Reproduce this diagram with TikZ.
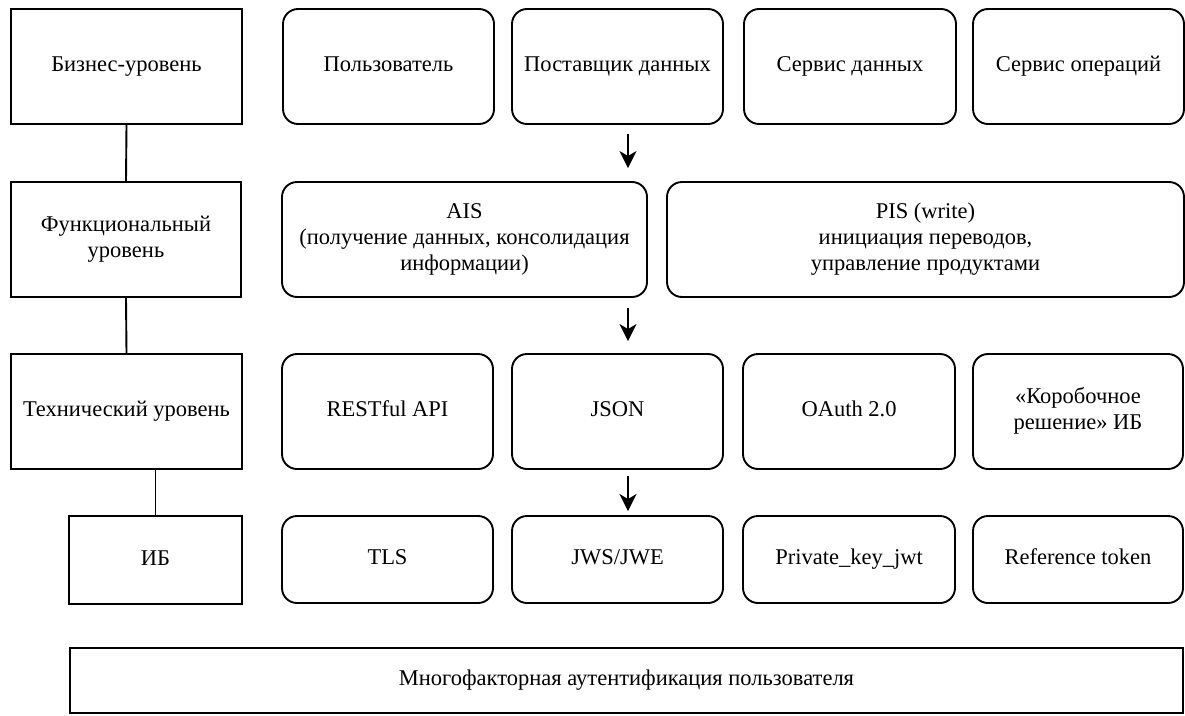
\documentclass[tikz,border=0pt]{standalone}
\usepackage{fontspec}
\setmainfont{Liberation Serif}
\usetikzlibrary{arrows.meta}

\tikzset{
  lvl/.style={draw, line width=1.9pt, rectangle, inner sep=0pt, align=center,
    font=\fontsize{22.5}{26}\selectfont},
  item/.style={lvl, rounded corners=15pt},
  link/.style={line width=1.9pt},
  arr/.style={line width=1.9pt, -{Stealth[length=17pt,width=17pt,inset=5pt]}},
}

% box with corners (x1,y1)-(x2,y2), y measured downwards
\newcommand{\boxat}[7]{%
  \node[#1, minimum width={(#5)-(#3)}, minimum height={(#6)-(#4)}]
    (#2) at ({((#3)+(#5))/2},{((#4)+(#6))/2}) {\strut#7\strut};}

\begin{document}
\begin{tikzpicture}[x=1pt, y=-1pt]
\useasboundingbox (0,0) rectangle (1185,715);

% levels
\boxat{lvl}{biz}{11}{9}{242}{124}{Бизнес-уровень}
\boxat{lvl}{func}{11}{182}{241}{297}{Функциональный\\уровень}
\boxat{lvl}{tech}{11}{354}{242}{469}{Технический уровень}
\boxat{lvl}{ib}{69}{516}{242}{604}{ИБ}

% business row
\boxat{item}{user}{283}{9}{494}{124}{Пользователь}
\boxat{item}{prov}{512}{9}{723}{124}{Поставщик данных}
\boxat{item}{sdata}{744}{9}{956}{124}{Сервис данных}
\boxat{item}{sop}{973}{9}{1184}{124}{Сервис операций}

% functional row
\boxat{item}{ais}{282}{182}{647}{297}{AIS\\(получение данных, консолидация\\информации)}
\boxat{item}{pis}{667}{182}{1184}{297}{PIS (write)\\инициация переводов,\\управление продуктами}

% technical row
\boxat{item}{rest}{282}{354}{493}{469}{RESTful API}
\boxat{item}{json}{512}{354}{723}{469}{JSON}
\boxat{item}{oauth}{743}{354}{955}{469}{OAuth 2.0}
\boxat{item}{boxsol}{973}{354}{1183}{469}{«Коробочное\\решение» ИБ}

% security row
\boxat{item}{tls}{282}{516}{493}{603}{TLS}
\boxat{item}{jws}{512}{516}{723}{603}{JWS/JWE}
\boxat{item}{pkj}{743}{516}{955}{603}{Private\_key\_jwt}
\boxat{item}{ref}{973}{516}{1183}{603}{Reference token}

% bottom bar
\boxat{lvl}{mfa}{70}{648}{1183}{713}{Многофакторная аутентификация пользователя}

% level links
\draw[link] (biz.south) -- (func.north);
\draw[link] (func.south) -- (tech.north);
\draw[link] (ib.north) -- (ib.north |- tech.south);

% flow arrows
\draw[arr, shorten <=9pt, shorten >=13pt]
  ([xshift=10.5pt]prov.south) -- ([xshift=10.5pt]prov.south |- ais.north);
\draw[arr, shorten <=10pt, shorten >=12pt]
  ([xshift=163.5pt]ais.south) -- ([xshift=163.5pt]ais.south |- json.north);
\draw[arr, shorten <=6pt, shorten >=4pt]
  ([xshift=10.5pt]json.south) -- ([xshift=10.5pt]json.south |- jws.north);
\end{tikzpicture}
\end{document}
